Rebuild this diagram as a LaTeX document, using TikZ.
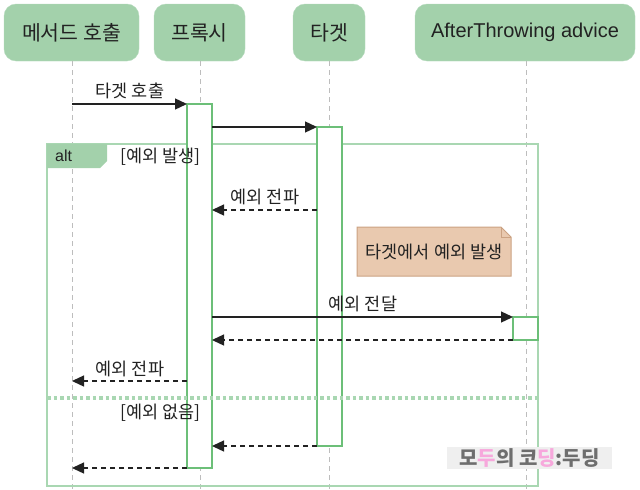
\documentclass[tikz,border=0pt]{standalone}
\usepackage{fontspec}
\setmainfont{Liberation Sans}
\newfontfamily\kr{Noto Sans CJK KR}
\usetikzlibrary{arrows.meta}
\definecolor{hdrgreen}{HTML}{A3D1AB}
\definecolor{framegreen}{HTML}{A9D7B2}
\definecolor{actgreen}{HTML}{6CBF78}
\definecolor{notefill}{HTML}{E9C9AF}
\definecolor{notedraw}{HTML}{CBA282}
\definecolor{lifegray}{HTML}{BDBDBD}
\definecolor{wmbg}{HTML}{EFEFEF}
\definecolor{wmtext}{HTML}{6E6E6E}
\definecolor{wmpink}{HTML}{F7A8DC}
\definecolor{txt}{HTML}{222222}
\tikzset{
  hdr/.style={fill=hdrgreen, draw=hdrgreen!80!white, rounded corners=12pt, minimum height=57pt, inner sep=0pt, text=txt, font=\fontsize{20.5}{23}\selectfont},
  life/.style={draw=lifegray, line width=1pt, dash pattern=on 5pt off 4pt},
  actbox/.style={draw=actgreen, fill=white, line width=1.2pt, minimum width=25pt, inner sep=0pt, outer sep=0pt, anchor=north west},
  msg/.style={draw=txt, line width=1.3pt, -{Triangle[length=12pt,width=11pt]}},
  ret/.style={msg, dash pattern=on 5pt off 4pt},
  lbl/.style={text=txt, font=\fontsize{17.5}{19}\selectfont, inner sep=0pt},
  framebox/.style={draw=framegreen, line width=2.5pt, inner sep=0pt, outer sep=0pt, anchor=north west},
  sepline/.style={draw=framegreen, line width=3.5pt, dash pattern=on 3.5pt off 3pt},
}
\begin{document}
\begin{tikzpicture}[x=1pt,y=-1pt]
\useasboundingbox (0,0) rectangle (640,490);
% headers
\node[hdr, minimum width=135pt] (m) at (71.5,32.5) {\kr 메서드 호출};
\node[hdr, minimum width=91pt] (p) at (199.5,32.5) {\kr 프록시};
\node[hdr, minimum width=72pt] (t) at (329,32.5) {\kr 타겟};
\node[hdr, minimum width=220pt, font=\fontsize{20}{23}\selectfont] (a) at (525,32.5) {AfterThrowing advice};
% lifeline coordinates
\coordinate (mb) at (72,490);
\coordinate (pb) at (200,490);
\coordinate (tb) at (329,490);
\coordinate (ab) at (526,490);
\draw[life] (72,61) -- (mb);
\draw[life] (200,61) -- (pb);
\draw[life] (329,61) -- (tb);
\draw[life] (526,61) -- (ab);
% alt frame
\node[framebox, minimum width=491pt, minimum height=342pt] (alt) at (47,144) {};
\fill[hdrgreen] (47,144) -- (107,144) -- (107,161) -- (100,168) -- (47,168) -- cycle;
\node[lbl, anchor=west, font=\fontsize{16}{18}\selectfont] (altlbl) at (55,156) {alt};
% note
\filldraw[fill=notefill, draw=notedraw, line width=1pt] (357,227) -- (501,227) -- (511,237) -- (511,276) -- (357,276) -- cycle;
\draw[notedraw, line width=1pt] (501,227) -- (501,237) -- (511,237);
\node[lbl] (note) at (434,252) {\kr 타겟에서 예외 발생};
% activation boxes
\node[actbox, minimum height=364pt] (pa) at (187,104) {};
\node[actbox, minimum height=319pt] (ta) at (317,127) {};
\node[actbox, minimum height=23pt] (aa) at (513,317) {};
% guard labels
\node[lbl, anchor=west] (g1) at (120,157) {\kr [예외 발생]};
\node[lbl, anchor=west] (g2) at (120,413) {\kr [예외 없음]};
% separator
\coordinate (sl) at (47,398);
\coordinate (sr) at (538,398);
\draw[sepline] (sl) -- (sr);
% messages
\coordinate (c1) at (72,104);
\draw[msg] (c1) -- (pa.north west);
\node[lbl] (l1) at (130,91) {\kr 타겟 호출};
\coordinate (c2) at (212,127);
\draw[msg] (c2) -- (ta.north west);
\coordinate (c3s) at (317,210);
\coordinate (c3e) at (212,210);
\draw[ret] (c3s) -- (c3e);
\node[lbl] (l3) at (265,197) {\kr 예외 전파};
\coordinate (c4) at (212,317);
\draw[msg] (c4) -- (aa.north west);
\node[lbl] (l4) at (363,304) {\kr 예외 전달};
\coordinate (c5e) at (212,340);
\draw[ret] (aa.south west) -- (c5e);
\coordinate (c6s) at (187,381);
\coordinate (c6e) at (72,381);
\draw[ret] (c6s) -- (c6e);
\node[lbl] (l6) at (130,369) {\kr 예외 전파};
\coordinate (c7e) at (212,446);
\draw[ret] (ta.south west) -- (c7e);
\coordinate (c8e) at (72,468);
\draw[ret] (pa.south west) -- (c8e);
% watermark
\node[fill=wmbg, minimum width=165pt, minimum height=22pt, inner sep=0pt, text=wmtext, font=\kr\bfseries\fontsize{20}{22}\selectfont] (wm) at (529.5,458) {모\textcolor{wmpink}{두}의 코\textcolor{wmpink}{딩}:두딩};
\end{tikzpicture}
\end{document}
